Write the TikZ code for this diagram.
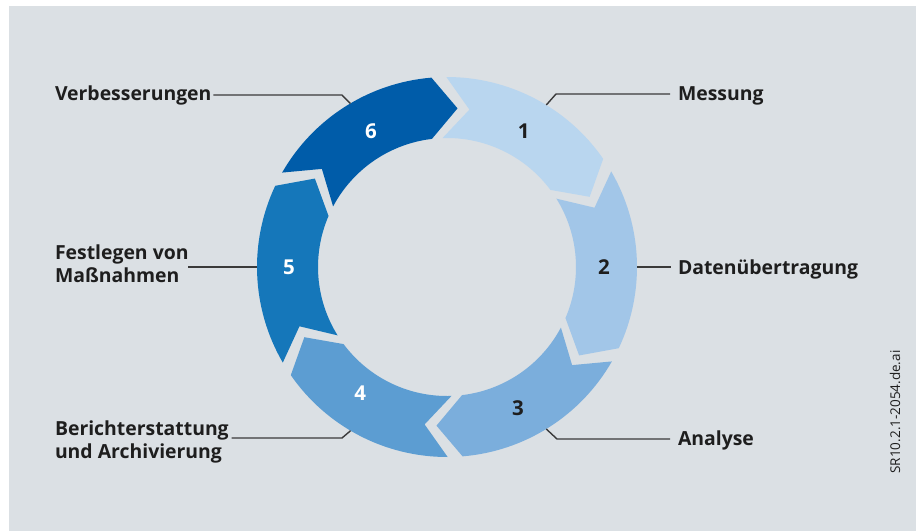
\documentclass[tikz,border=0pt]{standalone}
\usepackage{fontspec}
\setmainfont{Open Sans}
\usetikzlibrary{positioning}

\definecolor{bggray}{HTML}{DBE0E4}
\definecolor{txtgray}{HTML}{1E1E1E}
\definecolor{leadgray}{HTML}{3A3A3A}
\definecolor{segA}{HTML}{B9D6EF}
\definecolor{segB}{HTML}{A2C6E8}
\definecolor{segC}{HTML}{7BAEDC}
\definecolor{segD}{HTML}{5C9DD2}
\definecolor{segE}{HTML}{1577BA}
\definecolor{segF}{HTML}{005CA9}

\begin{document}
\begin{tikzpicture}[x=1pt,y=1pt,
        every node/.style={inner sep=0,outer sep=0},
        lbl/.style={font=\fontsize{19.4}{23.5}\selectfont\bfseries,text=txtgray,align=left},
        num/.style={font=\fontsize{20.5}{20.5}\selectfont\bfseries},
        leader/.style={draw=leadgray,line width=1.4pt},
        ]
\useasboundingbox (0,0) rectangle (919,-531);
\fill[bggray] (9,-6) rectangle (916,-531);

% ring of six arrows, clockwise
\begin{scope}[shift={(447,-267)}]
\foreach \t/\c in {90.2/segA, 30.2/segB, -29.8/segC, -89.8/segD, -149.8/segE, 150.2/segF}
    \fill[\c] (\t:190) arc[start angle=\t, end angle=\t-55.5, radius=190]
        -- (\t-64:159) -- (\t-53.5:129)
        arc[start angle=\t-53.5, end angle=\t+1.8, radius=129]
        -- (\t-8.3:159) -- cycle;

\node[num,text=txtgray] (n1) at (60.5:156) {1};
\node[num,text=txtgray] (n2) at (0:157) {2};
\node[num,text=txtgray] (n3) at (-63.3:158) {3};
\node[num,text=white] (n4) at (235.4:153) {4};
\node[num,text=white] (n5) at (180:158) {5};
\node[num,text=white] (n6) at (119.2:156) {6};

\coordinate (p1) at (58.5:190);
\coordinate (p2) at (0:190);
\coordinate (p3) at (-58.5:190);
\coordinate (p4) at (239.5:190);
\coordinate (p5) at (180:190);
\coordinate (p6) at (120.6:190);
\end{scope}

% labels
\node[lbl,anchor=base west] (t1) at (678,-100.5) {Messung};
\node[lbl,anchor=base west] (t2) at (678,-274) {Datenübertragung};
\node[lbl,anchor=base west] (t3) at (678,-445) {Analyse};
\node[lbl,anchor=base west] (t4) at (55,-458.5) {Berichterstattung\\und Archivierung};
\node[lbl,anchor=base west] (t5) at (55,-282.5) {Festlegen von\\Maßnahmen};
\node[lbl,anchor=base west] (t6) at (55,-100.5) {Verbesserungen};

\node[rotate=90,font=\fontsize{13.5}{13.5}\selectfont,text=txtgray] (code) at (895,-412) {SR10.2.1-2054.de.ai};

% leaders
\coordinate (c1) at (556,-94);
\coordinate (c3) at (557,-439);
\coordinate (c4) at (342,-438);
\coordinate (c6) at (342,-95);

\draw[leader] (p1) -- (c1) -- ([xshift=-8pt]t1.west |- c1);
\draw[leader] (p2) -- ([xshift=-7pt]t2.west |- p2);
\draw[leader] (p3) -- (c3) -- ([xshift=-8pt]t3.west |- c3);
\draw[leader] (p4) -- (c4) -- ([xshift=3pt]t4.east |- c4);
\draw[leader] (p5) -- ([xshift=-1pt]t5.east |- p5);
\draw[leader] (p6) -- (c6) -- ([xshift=2pt]t6.east |- c6);

\end{tikzpicture}
\end{document}
